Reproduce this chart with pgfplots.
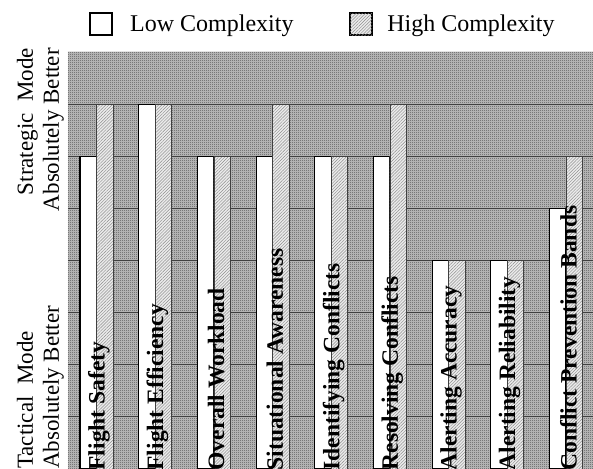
\documentclass[border=0pt]{standalone}
\usepackage{fontspec}
\setmainfont{Liberation Serif}
\usepackage{pgfplots}
\pgfplotsset{compat=1.18}
\usetikzlibrary{patterns,patterns.meta}
\tikzdeclarepattern{
  name=checker,
  bottom left={(0pt,0pt)},
  top right={(2pt,2pt)},
  tile size={(2pt,2pt)},
  code={\fill (0pt,0pt) rectangle (1pt,1pt); \fill (1pt,1pt) rectangle (2pt,2pt);}
}
\tikzset{hibar/.style={fill=black!8, postaction={pattern={Lines[angle=45, distance=2.2pt, line width=0.45pt]}, pattern color=black!45}}}
\begin{document}
\begin{tikzpicture}
\begin{axis}[
  scale only axis, width=525pt, height=417pt,
  xmin=-0.486, xmax=8.46, ymin=0, ymax=8,
  axis line style={draw=none},
  xtick=\empty, ytick={1,2,3,4,5,6,7}, yticklabels={},
  major tick length=0pt,
  ymajorgrids, grid style={black!75, line width=0.9pt},
  axis background/.style={fill=black!22, postaction={pattern=checker, pattern color=black!85}},
  ybar=0pt, bar width=16.5pt,
  clip=false,
]
\addplot[draw=black, line width=1.1pt, fill=white] coordinates {(0,6) (1,7) (2,6) (3,6) (4,6) (5,6) (6,4) (7,4) (8,5)};
\addplot[draw=black!75, line width=0.7pt, hibar] coordinates {(0,7) (1,7) (2,6) (3,7) (4,6) (5,7) (6,4) (7,4) (8,6)};

\tikzset{cat/.style={rotate=90, anchor=west, inner sep=0pt, font=\bfseries\fontsize{23.5}{23.5}\selectfont}}
\node[cat] at (axis cs:0.04,-0.03) {Flight Safety};
\node[cat] at (axis cs:1.04,-0.03) {Flight Efficiency};
\node[cat] at (axis cs:2.04,-0.03) {Overall Workload};
\node[cat] at (axis cs:3.04,-0.03) {Situational Awareness};
\node[cat] at (axis cs:4.04,-0.03) {Identifying Conflicts};
\node[cat] at (axis cs:5.04,-0.03) {Resolving Conflicts};
\node[cat] at (axis cs:6.04,-0.03) {Alerting Accuracy};
\node[cat] at (axis cs:7.04,-0.03) {Alerting Reliability};
\node[cat] at (axis cs:8.04,-0.03) {Conflict Prevention Bands};

\node[rotate=90, anchor=south east, align=right, inner sep=0pt, font=\fontsize{23}{26}\selectfont] at (axis cs:-0.554,8.077) {Strategic\ \ Mode\\Absolutely Better};
\node[rotate=90, anchor=south west, align=left, inner sep=0pt, font=\fontsize{23}{26}\selectfont] at (axis cs:-0.554,0) {Tactical\ \ Mode\\Absolutely Better};

\node[draw=black, line width=2pt, fill=white, minimum size=22pt, inner sep=0pt] at (axis cs:0.068,8.537) {};
\node[anchor=base west, inner sep=0pt, font=\fontsize{24}{28}\selectfont] at (axis cs:0.571,8.384) {Low Complexity};
\node[draw=black, line width=2pt, hibar, minimum size=22pt, inner sep=0pt] at (axis cs:4.509,8.537) {};
\node[anchor=base west, inner sep=0pt, font=\fontsize{24}{28}\selectfont] at (axis cs:4.952,8.384) {High Complexity};

\coordinate (BL) at (rel axis cs:0,0);
\coordinate (TR) at (rel axis cs:1,1);
\end{axis}
\pgfresetboundingbox
\path ([xshift=-68pt]BL) rectangle ([yshift=52pt]TR);
\end{tikzpicture}
\end{document}
